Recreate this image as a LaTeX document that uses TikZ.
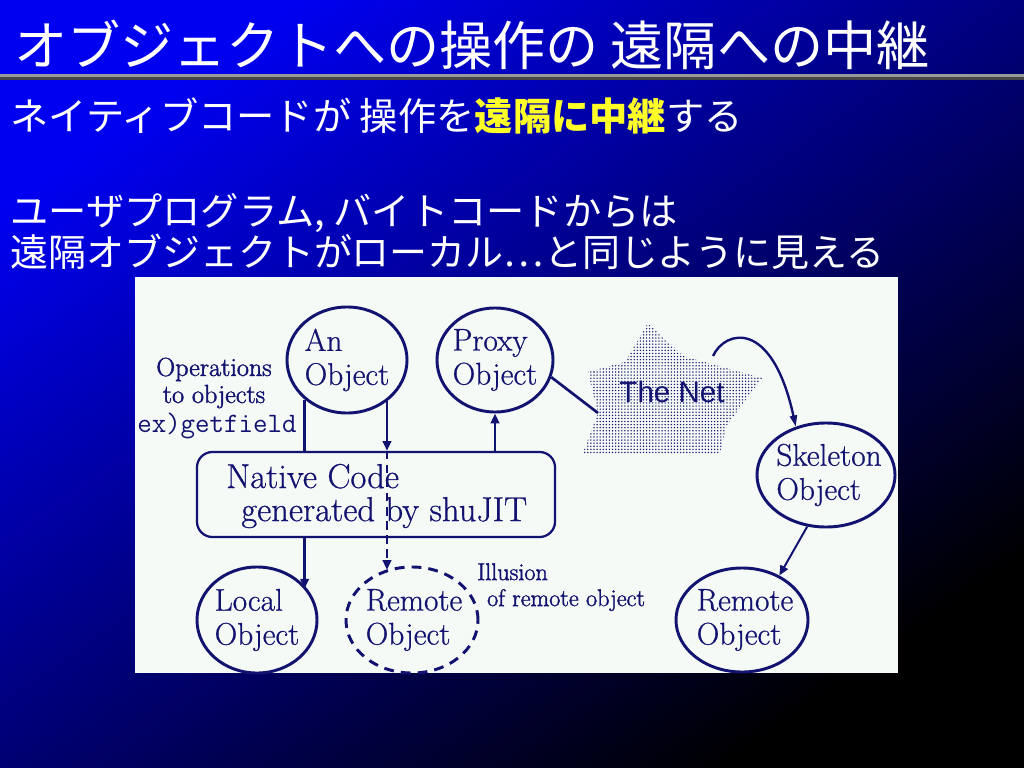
\documentclass[tikz,border=0pt]{standalone}
\usepackage{fontspec}
\usetikzlibrary{arrows.meta,patterns,shapes.geometric,calc}
\newfontfamily\jp{Noto Sans CJK JP}
\newfontfamily\arialf{Liberation Sans}
\newfontfamily\dser{Latin Modern Roman}[FakeBold=0.7]
\newfontfamily\dserb{Latin Modern Roman}[FakeBold=1.6]
\definecolor{navyd}{RGB}{18,18,112}
\definecolor{boxbg}{RGB}{246,250,246}
\definecolor{topblue}{RGB}{0,0,240}
\definecolor{ylw}{RGB}{255,255,40}
\pgfdeclarepatternformonly{netdots}{\pgfqpoint{-1pt}{-1pt}}{\pgfqpoint{1pt}{1pt}}{\pgfqpoint{2.2pt}{2.2pt}}{\pgfpathcircle{\pgfqpoint{0pt}{0pt}}{0.55pt}\pgfusepath{fill}}
\tikzset{
  obj/.style={ellipse,draw=navyd,line width=2.1pt,inner sep=0pt},
  objtxt/.style={align=left,text=navyd,inner sep=0pt,font=\dser\fontsize{22.3}{24.2}\selectfont},
  conn/.style={draw=navyd,line width=1.9pt},
  tip/.style={-{Triangle[length=7pt,width=6pt]}},
  jptxt/.style={anchor=base west,inner sep=0pt,text=white},
}
\begin{document}
\begin{tikzpicture}[x=0.025cm,y=-0.025cm]
\useasboundingbox (0,0) rectangle (1024,768);
% background
\shade[shading=axis,top color=topblue,bottom color=black,shading angle=35] (0,0) rectangle (1024,768);
\fill[gray!80] (0,74) rectangle (1024,77);
\fill[gray!55!black] (0,77) rectangle (1024,80);
% title and body text
\node[jptxt,font=\jp\fontsize{37.8}{40}\selectfont] (title) at (14,66) {オブジェクトへの操作の 遠隔への中継};
\node[jptxt,font=\jp\fontsize{27.2}{30}\selectfont] (l1) at (10,131) {ネイティブコードが 操作を{\bfseries\color{ylw}遠隔に中継}する};
\node[jptxt,font=\jp\fontsize{27.2}{30}\selectfont] (l2) at (10,225) {ユーザプログラム, バイトコードからは};
\node[jptxt,font=\jp\fontsize{27}{30}\selectfont] (l3) at (10,266) {遠隔オブジェクトがローカル…と同じように見える};
% diagram panel
\fill[boxbg] (135,277) rectangle (898,673);
% the net
\fill[pattern=netdots,pattern color=navyd]
  (648,323) -- (683,356) -- (762,378) -- (727,425) -- (720,453) -- (583,453)
  -- (598,413) coordinate (netL) -- (588,372) -- (625,362) -- cycle;
\coordinate (netTR) at (713,356);
\node[text=navyd,font=\arialf\fontsize{21}{22}\selectfont,inner sep=0pt] (nettxt) at (672,392) {The Net};
% objects
\node[obj,minimum width=3cm,minimum height=2.65cm] (an) at (347,360) {};
\node[objtxt] (ant) at (an) {An\\Object};
\node[obj,minimum width=2.9cm,minimum height=2.6cm] (proxy) at (495,360) {};
\node[objtxt] (proxyt) at (proxy) {Proxy\\Object};
\node[obj,minimum width=3.45cm,minimum height=2.6cm] (skel) at (826,475) {};
\node[objtxt] (skelt) at ($(skel)+(3,0)$) {Skeleton\\Object};
\node[obj,minimum width=3cm,minimum height=2.65cm] (local) at (257,620) {};
\node[objtxt] (localt) at (local) {Local\\Object};
\node[obj,dash pattern=on 7pt off 5pt,minimum width=3.3cm,minimum height=2.65cm] (remd) at (412,620) {};
\node[objtxt] (remdt) at ($(remd)+(2,0)$) {Remote\\Object};
\node[obj,minimum width=3.3cm,minimum height=2.6cm] (remr) at (742,620) {};
\node[objtxt] (remrt) at ($(remr)+(3,0)$) {Remote\\Object};
% native code box
\node[draw=navyd,line width=1.6pt,rounded corners=11pt,minimum width=8.95cm,minimum height=2.125cm] (ncode) at (376,494.5) {};
\node[anchor=west,inner sep=0pt,align=left,text=navyd,font=\dser\fontsize{24.6}{23.5}\selectfont] (ncodet) at (226,496)
      {Native Code\\\hspace*{10.7pt}generated by shuJIT};
% labels
\node[align=center,text=navyd,inner sep=0pt,font=\dserb\fontsize{18.6}{19.2}\selectfont] (ops) at (214,383) {Operations\\to objects};
\node[anchor=west,text=navyd,inner sep=0pt,font=\ttfamily\fontsize{20}{22}\selectfont] (exg) at (137,426) {ex)getfield};
\node[align=left,anchor=north west,text=navyd,inner sep=0pt,font=\dserb\fontsize{17.2}{18.5}\selectfont] (ill) at (477,563) {Illusion\\\hspace*{7pt}of remote object};
% connectors
\draw[conn] (an.223) -- (an.223 |- ncode.north);
\draw[conn,tip] (an.223 |- ncode.south) -- (an.223 |- local.32);
\draw[conn,tip] (an.314) -- (an.314 |- ncode.north);
\draw[conn,dash pattern=on 6pt off 4pt,tip] (an.314 |- ncode.north) -- (an.314 |- remd.118);
\draw[conn,tip] (proxy.south |- ncode.north) -- (proxy.south);
\draw[conn] (proxy.-17) -- (netL);
\draw[conn,line width=1.7pt,-{Triangle[length=8pt,width=5pt]}] (netTR) .. controls (725,330) and (772,318) .. (skel.122);
\draw[conn,line width=1.4pt,tip] (skel.250) -- (remr.50);
\end{tikzpicture}
\end{document}
